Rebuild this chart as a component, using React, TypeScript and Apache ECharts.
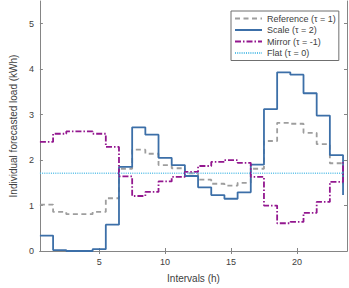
import React, { useEffect, useRef } from "react";
import * as echarts from "echarts";

// interval edges (h) — stairs points
const edges = [0.5, 1.5, 2.5, 3.5, 4.5, 5.5, 6.5, 7.5, 8.5, 9.5, 10.5, 11.5, 12.5, 13.5, 14.5, 15.5, 16.5, 17.5, 18.5, 19.5, 20.5, 21.5, 22.5, 23.5];

const reference = [1.02, 0.86, 0.81, 0.81, 0.86, 1.16, 1.81, 2.23, 2.14, 1.89, 1.82, 1.71, 1.57, 1.48, 1.44, 1.5, 1.81, 2.42, 2.82, 2.8, 2.6, 2.35, 1.93, 1.47];
const scale = [0.34, 0.02, 0.0, 0.0, 0.04, 0.58, 1.85, 2.72, 2.56, 2.05, 1.89, 1.65, 1.4, 1.23, 1.15, 1.29, 1.9, 3.12, 3.93, 3.88, 3.47, 2.98, 2.11, 1.23];
const mirror = [2.4, 2.58, 2.63, 2.63, 2.58, 2.29, 1.64, 1.21, 1.3, 1.53, 1.63, 1.74, 1.87, 1.96, 2.0, 1.94, 1.63, 1.0, 0.61, 0.64, 0.84, 1.08, 1.52, 1.95];
const flat = [1.71, 1.71, 1.71, 1.71, 1.71, 1.71, 1.71, 1.71, 1.71, 1.71, 1.71, 1.71, 1.71, 1.71, 1.71, 1.71, 1.71, 1.71, 1.71, 1.71, 1.71, 1.71, 1.71, 1.71];

const xTicks = [5, 10, 15, 20];
const yTicks = [0, 1, 2, 3, 4, 5];
const names = ["Reference (τ = 1)", "Scale (τ = 2)", "Mirror (τ = -1)", "Flat (τ = 0)"];

const FONT = "'Liberation Sans', Arial, sans-serif";
const AXIS = "#858585";
const TEXT = "#404040";

const pairs = (ys: number[]) => edges.map((x, i) => [x, ys[i]]);

export default function App() {
  const ref = useRef<HTMLDivElement>(null);
  useEffect(() => {
    if (!ref.current) return;
    const chart = echarts.init(ref.current, undefined, { renderer: "svg" });
    const axisBase = {
      axisLine: { show: true, lineStyle: { color: AXIS, width: 1 } },
      splitLine: { show: false },
    };
    chart.setOption({
      animation: false,
      backgroundColor: "#ffffff",
      textStyle: { fontFamily: FONT },
      grid: { left: 25, right: 2, top: 1, bottom: 32 },
      legend: {
        orient: "vertical",
        left: 231,
        top: 11,
        padding: [2, 3, 2, 3],
        itemGap: 0.5,
        itemWidth: 27,
        itemHeight: 10,
        borderColor: "#6f6f6f",
        borderWidth: 1,
        backgroundColor: "#ffffff",
        itemStyle: { opacity: 0 },
        textStyle: { fontSize: 9, color: TEXT, fontFamily: FONT, lineHeight: 11 },
        data: names,
      },
      xAxis: [
        {
          type: "value",
          min: 0.5,
          max: 23.8,
          position: "bottom",
          ...axisBase,
          name: "Intervals (h)",
          nameLocation: "middle",
          nameGap: 22,
          nameTextStyle: { fontSize: 10, color: TEXT, fontFamily: FONT },
          axisTick: { show: true, inside: true, length: 3, lineStyle: { color: AXIS }, customValues: xTicks },
          axisLabel: { show: true, fontSize: 9, color: TEXT, margin: 6, customValues: xTicks, fontFamily: FONT },
        },
        {
          type: "value",
          min: 0.5,
          max: 23.8,
          position: "top",
          ...axisBase,
          axisTick: { show: true, inside: true, length: 3, lineStyle: { color: AXIS }, customValues: xTicks },
          axisLabel: { show: false },
        },
      ],
      yAxis: [
        {
          type: "value",
          min: 0,
          max: 5.5,
          position: "left",
          ...axisBase,
          name: "Individual forecasted load (kWh)",
          nameLocation: "middle",
          nameGap: 12,
          nameTextStyle: { fontSize: 10, color: TEXT, fontFamily: FONT },
          axisTick: { show: true, inside: true, length: 3, lineStyle: { color: AXIS }, customValues: yTicks },
          axisLabel: { show: true, fontSize: 9, color: TEXT, margin: 6, customValues: yTicks, fontFamily: FONT },
        },
        {
          type: "value",
          min: 0,
          max: 5.5,
          position: "right",
          ...axisBase,
          axisTick: { show: true, inside: true, length: 3, lineStyle: { color: AXIS }, customValues: yTicks },
          axisLabel: { show: false },
        },
      ],
      series: [
        {
          name: names[0],
          type: "line",
          step: "end",
          symbol: "none",
          data: pairs(reference),
          lineStyle: { color: "#9e9e9e", width: 1.8, type: [5, 3.5] },
          itemStyle: { color: "#9e9e9e" },
          z: 3,
        },
        {
          name: names[1],
          type: "line",
          step: "end",
          symbol: "none",
          data: pairs(scale),
          lineStyle: { color: "#3c6fa8", width: 1.8, type: "solid" },
          itemStyle: { color: "#3c6fa8" },
          z: 4,
        },
        {
          name: names[2],
          type: "line",
          step: "end",
          symbol: "none",
          data: pairs(mirror),
          lineStyle: { color: "#93178f", width: 1.8, type: [6, 2, 1.5, 2] },
          itemStyle: { color: "#93178f" },
          z: 5,
        },
        {
          name: names[3],
          type: "line",
          step: "end",
          symbol: "none",
          data: pairs(flat),
          lineStyle: { color: "#5cc0e8", width: 1.5, type: [1, 1.2] },
          itemStyle: { color: "#5cc0e8" },
          z: 6,
        },
      ],
    });
    return () => chart.dispose();
  }, []);
  return <div ref={ref} style={{ width: 349, height: 288, position: "absolute", left: 0, top: 0 }} />;
}
